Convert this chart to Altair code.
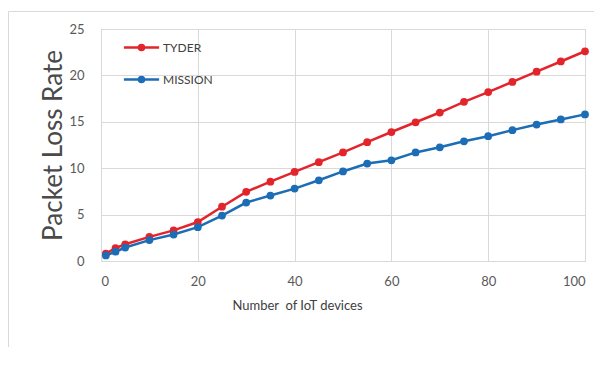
import altair as alt
import pandas as pd

devices = [1, 3, 5, 10, 15, 20, 25, 30, 35, 40, 45, 50, 55, 60, 65, 70, 75, 80, 85, 90, 95, 100]
tyder = [0.8, 1.4, 1.8, 2.6, 3.3, 4.2, 5.85, 7.45, 8.55, 9.6, 10.65, 11.7, 12.8, 13.9, 14.95,
         16.0, 17.15, 18.2, 19.3, 20.4, 21.5, 22.6]
mission = [0.6, 1.0, 1.45, 2.25, 2.85, 3.65, 4.9, 6.3, 7.05, 7.8, 8.7, 9.65, 10.5, 10.85, 11.7,
           12.25, 12.9, 13.45, 14.1, 14.7, 15.25, 15.8]
series = ["TYDER", "MISSION"]
colors = ["#e3242b", "#1c6db5"]
x_ticks = [0, 20, 40, 60, 80, 100]
y_ticks = [0, 5, 10, 15, 20, 25]

rows = []
for name, vals in zip(series, [tyder, mission]):
    for d, v in zip(devices, vals):
        rows.append({"devices": d, "rate": v, "series": name})
df = pd.DataFrame(rows)

FONT = "Lato"
GRID = "#d9d9d9"
LEG_PATH = ("M-1.1,0H1.1"
            "M-0.16,0A0.16,0.16 0 1,0 0.16,0A0.16,0.16 0 1,0 -0.16,0Z"
            "M-0.07,0A0.07,0.07 0 1,0 0.07,0A0.07,0.07 0 1,0 -0.07,0Z")

frame = alt.Chart(alt.Data(values=[{"a": 1}])).mark_rect(
    fill=None, stroke=GRID, strokeWidth=1
).encode(
    x=alt.value(-92.5), x2=alt.value(500), y=alt.value(-17.5), y2=alt.value(330)
)

lines = alt.Chart(df).mark_line(
    strokeWidth=2.5,
    point=alt.OverlayMarkDef(size=60, filled=True, opacity=1),
).encode(
    x=alt.X("devices:Q",
            scale=alt.Scale(domain=[0, 100], nice=False),
            axis=alt.Axis(values=x_ticks, title="Number\u00a0\u00a0of IoT devices",
                          titleX=196, titleY=38, titleFontSize=13,
                          titleFontWeight="normal", titleColor="#404040",
                          titleFont=FONT,
                          labelFont=FONT, labelFontSize=13, labelColor="#595959",
                          labelPadding=14, tickSize=0, domainColor=GRID,
                          gridColor=GRID)),
    y=alt.Y("rate:Q",
            scale=alt.Scale(domain=[0, 25], nice=False),
            axis=alt.Axis(values=y_ticks, title="Packet Loss Rate",
                          titleFontSize=26, titleFontWeight="normal",
                          titleColor="#4a4a4a", titleFont=FONT, titlePadding=2,
                          labelFont=FONT, labelFontSize=13, labelColor="#595959",
                          labelPadding=17, tickSize=0, domainColor=GRID,
                          gridColor=GRID)),
    color=alt.Color("series:N",
                    scale=alt.Scale(domain=series, range=colors),
                    sort=series,
                    legend=alt.Legend(title=None, orient="none",
                                      legendX=23, legendY=1,
                                      symbolType=LEG_PATH, symbolSize=1024,
                                      symbolStrokeWidth=2.5,
                                      labelFont=FONT, labelFontSize=12,
                                      labelColor="#404040", labelOffset=4,
                                      rowPadding=6)),
)

chart = alt.layer(frame, lines).properties(
    width=484, height=232,
    padding={"left": 93, "top": 21, "right": 9, "bottom": 86},
    autosize=alt.AutoSizeParams(type="none"),
    background="white",
).configure_view(stroke=GRID, strokeWidth=1)

chart.save("out.html", embed_options={"renderer": "svg", "actions": False})
